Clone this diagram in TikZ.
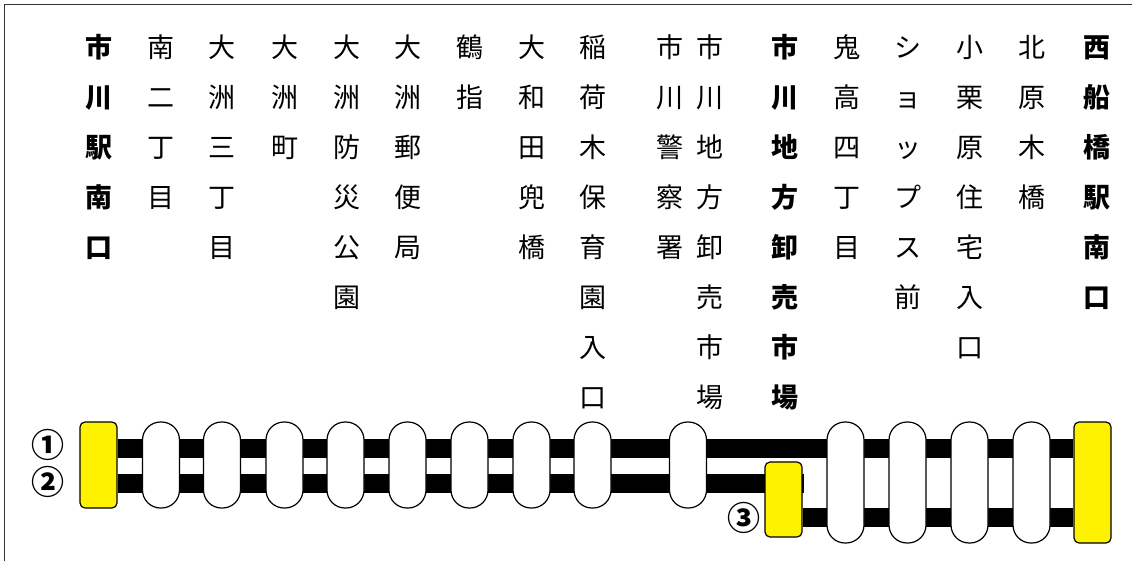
\documentclass[tikz,border=0pt]{standalone}
\usepackage{fontspec}
\newfontfamily\jp{Noto Sans CJK JP}
\usetikzlibrary{backgrounds}
\tikzset{
  pill/.style={draw=black, line width=1.2pt, fill=white, rounded corners=18pt,
    minimum width=37pt, minimum height=86pt, inner sep=0pt},
  tallpill/.style={pill, minimum height=121pt},
  term/.style={draw=black, line width=1.2pt, fill=yellow, rounded corners=5pt,
    minimum width=37pt, inner sep=0pt},
  track/.style={draw=black, line width=19pt},
  stx/.style={inner sep=0pt, anchor=base, font=\jp\fontsize{27pt}{27pt}\selectfont},
  stxb/.style={stx, font=\jp\bfseries\fontsize{27pt}{27pt}\selectfont},
  num/.style={inner sep=0pt, anchor=base, font=\jp\bfseries\fontsize{33pt}{33pt}\selectfont},
}
\newcommand\stcol[4]{%
  \foreach \ch [count=\i] in {#4} {\node[#3] (#1-\i) at (#2, {57+50*(\i-1)}) {\ch};}}
\begin{document}
\begin{tikzpicture}[x=1pt,y=-1pt]
\useasboundingbox (0,0) rectangle (1132,560);
\draw[line width=1pt, black!80] (4,562) -- (4,4) -- (1134,4);
% station names
\stcol{a}{99}{stxb}{市,川,駅,南,口}
\stcol{b}{161}{stx}{南,二,丁,目}
\stcol{c}{222}{stx}{大,洲,三,丁,目}
\stcol{d}{285}{stx}{大,洲,町}
\stcol{e}{347}{stx}{大,洲,防,災,公,園}
\stcol{f}{408}{stx}{大,洲,郵,便,局}
\stcol{g}{470}{stx}{鶴,指}
\stcol{h}{532}{stx}{大,和,田,兜,橋}
\stcol{i}{593}{stx}{稲,荷,木,保,育,園,入,口}
\stcol{j}{670}{stx}{市,川,警,察,署}
\stcol{k}{710}{stx}{市,川,地,方,卸,売,市,場}
\stcol{l}{785}{stxb}{市,川,地,方,卸,売,市,場}
\stcol{m}{847}{stx}{鬼,高,四,丁,目}
\stcol{n}{908}{stx}{シ,ョ,ッ,プ,ス,前}
\stcol{o}{970}{stx}{小,栗,原,住,宅,入,口}
\stcol{p}{1032}{stx}{北,原,木,橋}
\stcol{q}{1097}{stxb}{西,船,橋,駅,南,口}
% terminals
\node[term, minimum height=86pt] (L) at (98.5,465) {};
\node[term, minimum height=75pt] (T3) at (783.5,499.5) {};
\node[term, minimum height=121pt] (R) at (1092.5,482.5) {};
% stops
\foreach \x [count=\k] in {161,222,284.5,345.5,407.5,469.5,531.5,592.5,688}
  \node[pill] (s\k) at (\x,465) {};
\foreach \x [count=\k] in {845.5,907.5,969.5,1031.5}
  \node[tallpill] (u\k) at (\x,482.5) {};
% route numbers
\node[num] (n1) at (48,457.5) {①};
\node[num] (n2) at (48,494) {②};
\node[num] (n3) at (743.5,530.5) {③};
% tracks
\begin{scope}[on background layer]
\draw[track] ([yshift=17pt]L.east) -- ([yshift=34.5pt]R.west);
\draw[track] ([yshift=-18pt]L.east) -- ([yshift=16.5pt,xshift=1pt]T3.east);
\draw[track] ([yshift=-17.5pt]T3.east) -- ([yshift=-34.5pt]R.west);
\end{scope}
\end{tikzpicture}
\end{document}
